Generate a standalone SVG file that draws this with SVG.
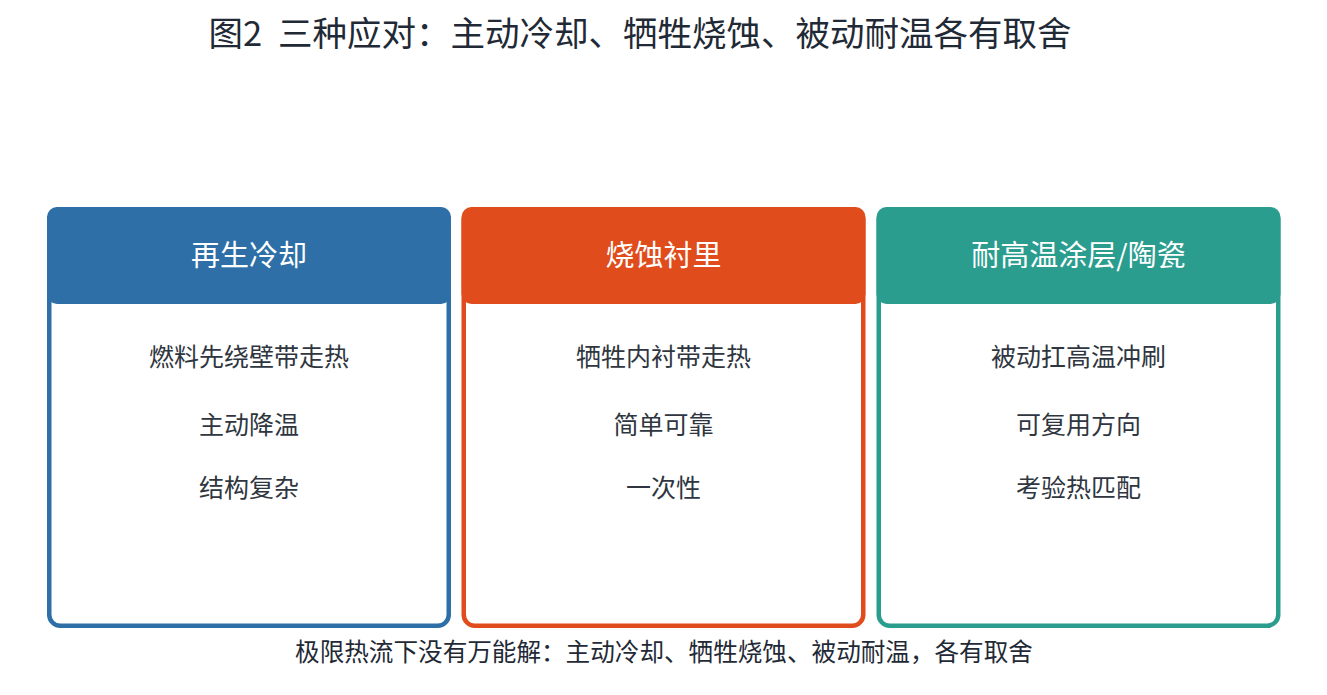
<svg xmlns="http://www.w3.org/2000/svg" width="1327" height="695" viewBox="0 0 1327 695">
<style>
text{font-family:"Noto Sans CJK SC","Noto Sans",sans-serif}
.title{font-size:34.5px;fill:#1f2a36}
.head{font-size:29px;fill:#ffffff;text-anchor:middle}
.body{font-size:25px;fill:#2f3640;text-anchor:middle}
.foot{font-size:24.6px;fill:#1f2a36;text-anchor:middle}
.frame{fill:#ffffff;stroke-width:4.5}
</style>
<rect width="1327" height="695" fill="#ffffff"/>
<g id="title">
<text class="title" x="208.5" y="46">图2</text>
<text class="title" x="278" y="46">三种应对：主动冷却、牺牲烧蚀、被动耐温各有取舍</text>
</g>
<g id="card-regen">
<rect class="frame" x="49.25" y="209.25" width="399.5" height="416.5" rx="11" stroke="#2d6fa6"/>
<rect x="47" y="207" width="404" height="97" rx="10" fill="#2d6fa6"/>
<text class="head" x="249" y="266">再生冷却</text>
<text class="body" x="249" y="366">燃料先绕壁带走热</text>
<text class="body" x="249" y="434">主动降温</text>
<text class="body" x="249" y="497">结构复杂</text>
</g>
<g id="card-ablative">
<rect class="frame" x="463.75" y="209.25" width="399.5" height="416.5" rx="11" stroke="#e04c1c"/>
<rect x="461.5" y="207" width="404" height="97" rx="10" fill="#e04c1c"/>
<text class="head" x="663.5" y="266">烧蚀衬里</text>
<text class="body" x="663.5" y="366">牺牲内衬带走热</text>
<text class="body" x="663.5" y="434">简单可靠</text>
<text class="body" x="663.5" y="497">一次性</text>
</g>
<g id="card-coating">
<rect class="frame" x="878.75" y="209.25" width="399.5" height="416.5" rx="11" stroke="#2a9d8f"/>
<rect x="876.5" y="207" width="404" height="97" rx="10" fill="#2a9d8f"/>
<text class="head" x="1078.5" y="266">耐高温涂层/陶瓷</text>
<text class="body" x="1078.5" y="366">被动扛高温冲刷</text>
<text class="body" x="1078.5" y="434">可复用方向</text>
<text class="body" x="1078.5" y="497">考验热匹配</text>
</g>
<g id="connectors"></g>
<g id="footer">
<text class="foot" x="664" y="661">极限热流下没有万能解：主动冷却、牺牲烧蚀、被动耐温，各有取舍</text>
</g>
</svg>
